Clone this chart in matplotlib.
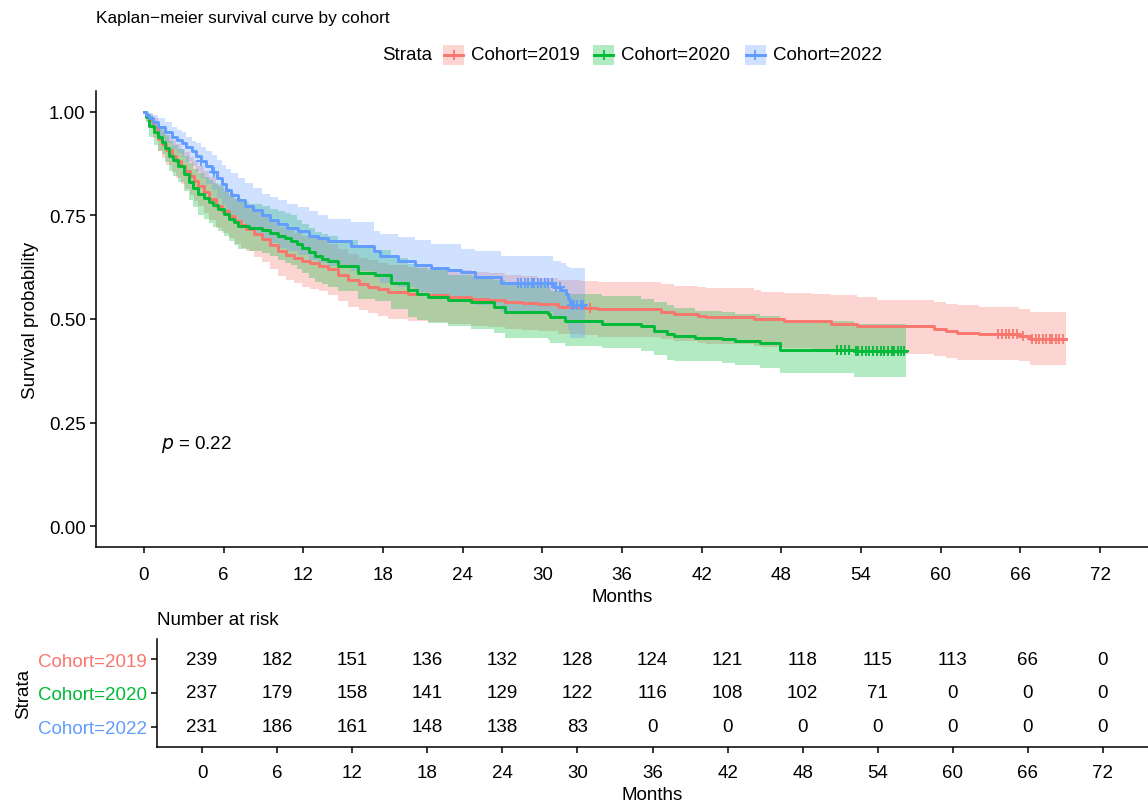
import numpy as np
import matplotlib
matplotlib.use("Agg")
import matplotlib.pyplot as plt
from matplotlib.patches import Rectangle
from matplotlib.lines import Line2D

plt.rcParams["font.family"] = ["Liberation Sans", "DejaVu Sans"]

# ---------------- data ----------------
cohorts = ["Cohort=2019", "Cohort=2020", "Cohort=2022"]
colors = ["#F8766D", "#00BA38", "#619CFF"]

t_2019 = [0, 0.2, 0.4, 0.7, 1.1, 1.4, 1.7, 2.1, 2.4, 2.8, 3.1, 3.5, 3.8, 4.1, 4.5, 4.9,
          5.4, 5.9, 6.4, 6.9, 7.3, 7.7, 8.3, 8.9, 9.5, 10.1, 10.7, 11.3, 11.9, 12.5,
          13.2, 13.9, 14.6, 15.4, 16.2, 16.9, 17.6, 18.4, 19.9, 21.4, 22.9, 24.6, 26.0,
          27.2, 28.5, 29.7, 31.2, 32.9, 34.2, 38.9, 39.9, 41.7, 42.3, 45.9, 46.5, 48.2,
          50.2, 51.7, 53.7, 55.2, 59.5, 60.4, 61.2, 62.9, 65.9, 66.7, 69.4]
s_2019 = [1.0, 0.99, 0.98, 0.962, 0.935, 0.922, 0.908, 0.894, 0.882, 0.868, 0.858,
          0.845, 0.833, 0.822, 0.806, 0.79, 0.773, 0.761, 0.749, 0.737, 0.727, 0.718,
          0.706, 0.694, 0.678, 0.663, 0.655, 0.647, 0.639, 0.634, 0.628, 0.62, 0.607,
          0.593, 0.585, 0.578, 0.572, 0.566, 0.561, 0.557, 0.552, 0.549, 0.545, 0.542,
          0.538, 0.535, 0.530, 0.527, 0.523, 0.518, 0.513, 0.508, 0.506, 0.501, 0.499,
          0.496, 0.494, 0.489, 0.484, 0.482, 0.477, 0.470, 0.467, 0.463, 0.458, 0.451,
          0.451]
lo_2019 = [1.0, 0.975, 0.96, 0.937, 0.905, 0.889, 0.872, 0.855, 0.841, 0.825, 0.813,
           0.798, 0.785, 0.773, 0.756, 0.739, 0.72, 0.708, 0.695, 0.682, 0.672, 0.663,
           0.65, 0.637, 0.62, 0.604, 0.595, 0.586, 0.578, 0.573, 0.567, 0.558, 0.544,
           0.53, 0.522, 0.514, 0.508, 0.501, 0.496, 0.492, 0.487, 0.484, 0.48, 0.477,
           0.473, 0.47, 0.465, 0.462, 0.457, 0.452, 0.447, 0.442, 0.44, 0.434, 0.432,
           0.429, 0.426, 0.421, 0.418, 0.415, 0.41, 0.405, 0.402, 0.40, 0.398, 0.388,
           0.388]
hi_2019 = [1.0, 0.998, 0.995, 0.984, 0.965, 0.954, 0.944, 0.932, 0.922, 0.911, 0.902,
           0.89, 0.88, 0.87, 0.856, 0.842, 0.826, 0.815, 0.803, 0.792, 0.783, 0.774,
           0.763, 0.752, 0.737, 0.723, 0.715, 0.708, 0.70, 0.695, 0.69, 0.682, 0.67,
           0.656, 0.648, 0.642, 0.636, 0.63, 0.625, 0.622, 0.617, 0.614, 0.61, 0.607,
           0.603, 0.60, 0.595, 0.592, 0.59, 0.585, 0.58, 0.578, 0.575, 0.571, 0.566,
           0.563, 0.561, 0.557, 0.554, 0.547, 0.542, 0.537, 0.534, 0.530, 0.525, 0.518,
           0.518]
cens_2019 = [33.6, 64.3, 64.6, 64.9, 65.1, 65.4, 65.7, 66.2, 66.9, 67.2, 67.4, 67.7,
             67.9, 68.2, 68.4, 68.7, 68.9, 69.2]

t_2020 = [0, 0.15, 0.4, 0.8, 1.1, 1.35, 1.6, 1.9, 2.2, 2.6, 3.0, 3.4, 3.7, 4.1, 4.5,
          4.9, 5.2, 5.6, 6.0, 6.4, 6.8, 7.1, 7.9, 8.9, 9.5, 10.1, 10.6, 11.1, 11.5,
          11.9, 12.4, 12.9, 13.4, 13.9, 14.6, 16.1, 17.4, 18.6, 19.9, 20.6, 21.4, 22.9,
          24.6, 26.4, 27.2, 30.4, 30.6, 31.7, 34.5, 37.4, 38.4, 39.4, 39.9, 41.5, 43.5,
          44.5, 46.4, 47.9, 53.5, 57.4]
s_2020 = [1.0, 0.988, 0.966, 0.95, 0.938, 0.928, 0.912, 0.894, 0.883, 0.87, 0.85,
          0.831, 0.816, 0.802, 0.792, 0.783, 0.775, 0.766, 0.754, 0.742, 0.733, 0.725,
          0.72, 0.715, 0.708, 0.701, 0.695, 0.689, 0.68, 0.672, 0.661, 0.651, 0.645,
          0.639, 0.629, 0.61, 0.605, 0.586, 0.569, 0.56, 0.554, 0.545, 0.54, 0.53,
          0.518, 0.513, 0.504, 0.496, 0.489, 0.482, 0.472, 0.465, 0.458, 0.455, 0.451,
          0.446, 0.441, 0.426, 0.424, 0.424]
lo_2020 = [1.0, 0.975, 0.94, 0.92, 0.906, 0.897, 0.878, 0.858, 0.845, 0.83, 0.808,
           0.786, 0.769, 0.752, 0.741, 0.731, 0.722, 0.713, 0.70, 0.688, 0.678, 0.67,
           0.665, 0.66, 0.652, 0.643, 0.636, 0.63, 0.621, 0.612, 0.60, 0.59, 0.584,
           0.578, 0.567, 0.548, 0.543, 0.524, 0.506, 0.497, 0.491, 0.484, 0.477, 0.467,
           0.455, 0.45, 0.441, 0.434, 0.429, 0.422, 0.412, 0.402, 0.398, 0.398, 0.393,
           0.388, 0.381, 0.369, 0.361, 0.361]
hi_2020 = [1.0, 0.998, 0.99, 0.975, 0.966, 0.96, 0.945, 0.93, 0.92, 0.91, 0.893,
           0.876, 0.863, 0.852, 0.843, 0.835, 0.828, 0.82, 0.808, 0.797, 0.789, 0.782,
           0.777, 0.772, 0.766, 0.76, 0.755, 0.75, 0.74, 0.73, 0.72, 0.71, 0.705, 0.70,
           0.69, 0.672, 0.667, 0.648, 0.632, 0.623, 0.617, 0.607, 0.603, 0.593, 0.582,
           0.577, 0.568, 0.561, 0.555, 0.549, 0.542, 0.533, 0.526, 0.52, 0.518, 0.513,
           0.508, 0.496, 0.489, 0.489]
cens_2020 = [52.2, 52.5, 52.8, 53.1, 53.6, 53.8, 54.1, 54.4, 54.6, 54.9, 55.2, 55.5,
             55.7, 56.0, 56.3, 56.5, 56.8, 57.0, 57.2]

t_2022 = [0, 0.2, 0.4, 0.7, 1.1, 1.6, 2.1, 2.5, 2.9, 3.2, 3.6, 3.9, 4.3, 4.7, 5.1, 5.5,
          5.9, 6.2, 6.6, 7.1, 7.6, 8.2, 8.9, 9.5, 10.1, 10.8, 11.6, 12.4, 13.1, 13.9,
          15.6, 17.3, 17.8, 19.1, 20.4, 21.6, 22.9, 23.9, 24.9, 26.9, 30.8, 31.4, 31.8,
          31.95, 32.1, 33.2]
s_2022 = [1.0, 0.993, 0.985, 0.975, 0.962, 0.951, 0.94, 0.932, 0.925, 0.915, 0.905,
          0.893, 0.88, 0.868, 0.855, 0.84, 0.825, 0.812, 0.80, 0.786, 0.773, 0.762,
          0.75, 0.739, 0.728, 0.72, 0.712, 0.701, 0.695, 0.689, 0.677, 0.665, 0.651,
          0.641, 0.631, 0.622, 0.617, 0.614, 0.602, 0.586, 0.578, 0.571, 0.56, 0.548,
          0.533, 0.533]
lo_2022 = [1.0, 0.985, 0.97, 0.957, 0.94, 0.925, 0.91, 0.9, 0.89, 0.879, 0.868, 0.854,
           0.84, 0.825, 0.81, 0.792, 0.775, 0.762, 0.75, 0.735, 0.72, 0.708, 0.695,
           0.683, 0.672, 0.664, 0.655, 0.642, 0.635, 0.628, 0.615, 0.602, 0.588, 0.577,
           0.566, 0.556, 0.551, 0.547, 0.534, 0.517, 0.508, 0.50, 0.488, 0.474, 0.455,
           0.455]
hi_2022 = [1.0, 0.999, 0.998, 0.992, 0.985, 0.975, 0.964, 0.957, 0.95, 0.94, 0.93,
           0.924, 0.916, 0.906, 0.895, 0.884, 0.872, 0.862, 0.852, 0.84, 0.827, 0.815,
           0.802, 0.794, 0.786, 0.778, 0.771, 0.761, 0.752, 0.742, 0.735, 0.713, 0.705,
           0.699, 0.69, 0.682, 0.68, 0.67, 0.663, 0.651, 0.641, 0.635, 0.629, 0.625,
           0.622, 0.622]
cens_2022 = [4.3, 5.3, 28.2, 28.4, 28.7, 28.9, 29.2, 29.4, 29.7, 29.9, 30.2, 30.4, 30.7,
             31.0, 31.3, 32.2, 32.4, 32.6, 32.9, 33.1]

risk_times = [0, 6, 12, 18, 24, 30, 36, 42, 48, 54, 60, 66, 72]
risk_2019 = [239, 182, 151, 136, 132, 128, 124, 121, 118, 115, 113, 66, 0]
risk_2020 = [237, 179, 158, 141, 129, 122, 116, 108, 102, 71, 0, 0, 0]
risk_2022 = [231, 186, 161, 148, 138, 83, 0, 0, 0, 0, 0, 0, 0]

p_text = "0.22"

series = [
    (t_2019, s_2019, lo_2019, hi_2019, cens_2019),
    (t_2020, s_2020, lo_2020, hi_2020, cens_2020),
    (t_2022, s_2022, lo_2022, hi_2022, cens_2022),
]
risks = [risk_2019, risk_2020, risk_2022]

W, H = 1148, 804
FS = 13.5
LW = 2.1


def style_axes(ax, xpad):
    for sp in ["top", "right"]:
        ax.spines[sp].set_visible(False)
    for sp in ["left", "bottom"]:
        ax.spines[sp].set_linewidth(1.1)
        ax.spines[sp].set_color("black")
    ax.tick_params(direction="out", length=4, width=1.1, colors="black",
                   labelsize=FS, labelcolor="black")
    ax.tick_params(axis="x", pad=xpad)


fig = plt.figure(figsize=(W / 100, H / 100), dpi=100)

# ---------------- survival curves ----------------
ax = fig.add_axes([96 / W, 1 - 548 / H, 1 - 96 / W, (548 - 92) / H])
for (t, s, lo, hi, cens), col in zip(series, colors):
    ax.fill_between(t, lo, hi, step="post", color=col, alpha=0.3, lw=0)
for (t, s, lo, hi, cens), col in zip(series, colors):
    t = np.array(t); s = np.array(s)
    ax.step(t, s, where="post", color=col, lw=LW)
    idx = np.searchsorted(t, cens, side="right") - 1
    ax.plot(cens, s[idx], ls="none", marker="+", ms=7, mew=1.3, color=col)

ax.set_xlim(-3.6, 75.6)
ax.set_ylim(-0.05, 1.05)
ax.set_xticks(risk_times)
ax.set_yticks([0, 0.25, 0.5, 0.75, 1.0])
ax.set_yticklabels(["0.00", "0.25", "0.50", "0.75", "1.00"])
style_axes(ax, 10)
ax.set_xlabel("Months", fontsize=FS, labelpad=3)
ax.set_ylabel("Survival probability", fontsize=FS, labelpad=7)
ax.text(1.3, 0.2, r"$\it{p}$ = " + p_text, fontsize=FS, va="center", ha="left")

fig.text(96 / W, 1 - 18 / H, "Kaplan\u2212meier survival curve by cohort",
         fontsize=12.4, ha="left", va="center")

# legend, drawn by hand so keys look like ggplot's (box + line + cross)
fig.text(432 / W, 1 - 55 / H, "Strata", fontsize=FS, ha="right", va="center")
key_x = [443, 593, 745]
yc = 1 - 56 / H
for x0, c, lab in zip(key_x, colors, cohorts):
    fig.add_artist(Rectangle((x0 / W, yc - 10 / H), 21 / W, 20 / H,
                             transform=fig.transFigure, facecolor=c, alpha=0.3, lw=0))
    fig.add_artist(Line2D([(x0 + 1) / W, (x0 + 20) / W], [yc, yc],
                          transform=fig.transFigure, color=c, lw=LW))
    fig.add_artist(Line2D([(x0 + 10.5) / W], [yc], transform=fig.transFigure,
                          color=c, marker="+", ms=7, mew=1.3, ls="none"))
    fig.text((x0 + 28) / W, 1 - 55 / H, lab, fontsize=FS, ha="left", va="center")

# ---------------- risk table ----------------
axr = fig.add_axes([157 / W, 1 - 748 / H, 1 - 157 / W, 108 / H])
rows = [3, 2, 1]
for r, vals in zip(rows, risks):
    for x, v in zip(risk_times, vals):
        axr.text(x, r, str(v), ha="center", va="center", fontsize=FS)
axr.set_xlim(-3.6, 75.6)
axr.set_ylim(0.4, 3.6)
axr.set_xticks(risk_times)
axr.set_yticks(rows)
axr.set_yticklabels(cohorts)
style_axes(axr, 8)
for lab, c in zip(axr.get_yticklabels(), colors):
    lab.set_color(c)
axr.set_xlabel("Months", fontsize=FS, labelpad=4)
axr.set_ylabel("Strata", fontsize=FS, labelpad=4)
axr.text(0, 1.0 + 19 / 108, "Number at risk", transform=axr.transAxes,
         fontsize=FS, ha="left", va="center")

fig.savefig("out.png", dpi=100)
